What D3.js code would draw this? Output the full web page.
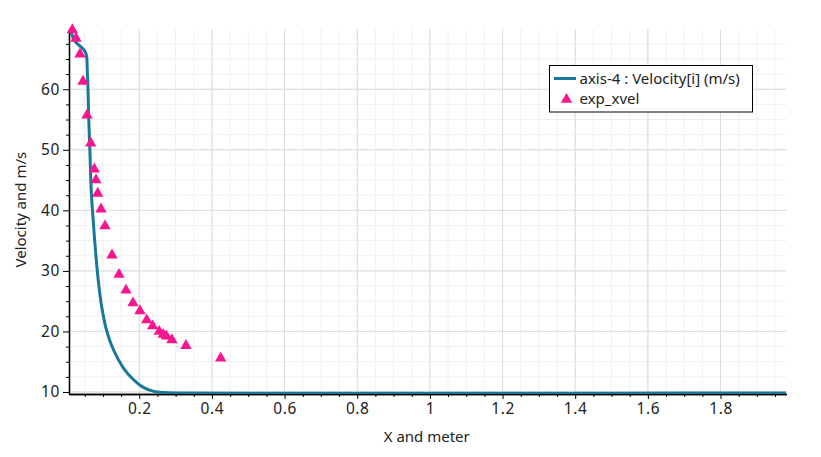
<!DOCTYPE html>
<html>
<head>
<meta charset="utf-8">
<script src="https://cdn.jsdelivr.net/npm/d3@7"></script>
<style>
  html, body { margin: 0; padding: 0; background: #fff; }
  text { font-family: "Noto Sans", "Open Sans", sans-serif; fill: #222; }
</style>
</head>
<body>
<svg id="chart" width="821" height="457"></svg>
<script>
// ---- data ----
const lineX = [0.013, 0.022, 0.052, 0.057, 0.061, 0.064, 0.068, 0.073, 0.080, 0.087, 0.096, 0.110, 0.128, 0.156, 0.183, 0.210, 0.240, 0.270, 0.320, 0.500, 1.000, 1.500, 1.980];
const lineY = [69.4, 68.0, 66.1, 63.0, 55.0, 50.0, 43.0, 38.5, 33.0, 28.5, 24.3, 20.2, 17.1, 14.0, 12.1, 10.8, 10.1, 9.9, 9.82, 9.8, 9.8, 9.8, 9.85];
const expX = [0.0157, 0.0259, 0.0369, 0.0451, 0.0561, 0.0663, 0.0762, 0.0809, 0.0856, 0.0947, 0.1057, 0.1250, 0.1442, 0.1635, 0.1827, 0.2020, 0.2204, 0.2369, 0.2550, 0.2660, 0.2750, 0.2900, 0.3285, 0.4241];
const expY = [69.8, 68.4, 65.8, 61.3, 55.7, 51.1, 46.8, 45.0, 42.8, 40.2, 37.4, 32.6, 29.4, 26.8, 24.7, 23.4, 21.9, 20.9, 20.0, 19.5, 19.2, 18.6, 17.65, 15.6];
const xTicks = [0.2, 0.4, 0.6, 0.8, 1, 1.2, 1.4, 1.6, 1.8];
const yTicks = [10, 20, 30, 40, 50, 60];
const xDomain = [0.0066, 1.9816];
const yDomain = [9.67, 69.9];
const seriesNames = ["axis-4 : Velocity[i] (m/s)", "exp_xvel"];
const xTitle = "X and meter";
const yTitle = "Velocity and m/s";

// ---- layout ----
const L = 69, R = 786.5, T = 29.3, B = 394;
const lineColor = "#17789a";
const markColor = "#f7168e";

const svg = d3.select("#chart");
const x = d3.scaleLinear().domain(xDomain).range([L, R]);
const y = d3.scaleLinear().domain(yDomain).range([B, T]);

const xMinor = d3.range(0.05, 1.981, 0.05).map(v => +v.toFixed(2));
const yMinor = d3.range(10, 69.9, 2.5);

// grid
const g = svg.append("g");
g.selectAll(".vminor").data(xMinor).join("line")
  .attr("x1", d => x(d)).attr("x2", d => x(d)).attr("y1", T).attr("y2", B)
  .attr("stroke", "#f0f0f0").attr("stroke-width", 1);
g.selectAll(".hminor").data(yMinor).join("line")
  .attr("x1", L).attr("x2", R).attr("y1", d => y(d)).attr("y2", d => y(d))
  .attr("stroke", "#f0f0f0").attr("stroke-width", 1);
g.selectAll(".vmajor").data(xTicks).join("line")
  .attr("x1", d => x(d)).attr("x2", d => x(d)).attr("y1", T).attr("y2", B)
  .attr("stroke", "#dcdcdc").attr("stroke-width", 1);
g.selectAll(".hmajor").data(yTicks).join("line")
  .attr("x1", L).attr("x2", R).attr("y1", d => y(d)).attr("y2", d => y(d))
  .attr("stroke", "#dcdcdc").attr("stroke-width", 1);

// axes
const fmt = d3.format("~g");
const xAxis = svg.append("g").attr("transform", `translate(0,${B})`)
  .call(d3.axisBottom(x).tickValues(xTicks).tickFormat(fmt).tickSize(5).tickSizeOuter(0).tickPadding(4));
const xAxisMinor = svg.append("g").attr("transform", `translate(0,${B})`)
  .call(d3.axisBottom(x).tickValues(xMinor.filter(v => !xTicks.some(t => Math.abs(t - v) < 1e-6))).tickFormat("").tickSize(3).tickSizeOuter(0));
const yAxis = svg.append("g").attr("transform", `translate(${L},0)`)
  .call(d3.axisLeft(y).tickValues(yTicks).tickFormat(fmt).tickSize(6).tickSizeOuter(0).tickPadding(3));
const yAxisMinor = svg.append("g").attr("transform", `translate(${L},0)`)
  .call(d3.axisLeft(y).tickValues(yMinor.filter(v => v % 10 !== 0)).tickFormat("").tickSize(3).tickSizeOuter(0));
[xAxis, xAxisMinor, yAxis, yAxisMinor].forEach(a => {
  a.select(".domain").attr("stroke", "#000").attr("stroke-width", 1.3);
  a.selectAll(".tick line").attr("stroke", "#000");
  a.selectAll(".tick text").style("font-family", '"Noto Sans", sans-serif').style("font-size", "15.5px")
    .style("letter-spacing", "0.6px").attr("fill", "#222");
});

// clip
svg.append("clipPath").attr("id", "clip").append("rect")
  .attr("x", L).attr("y", T - 6).attr("width", R - L).attr("height", B - T + 6);

// line
const lineData = lineX.map((v, i) => [v, lineY[i]]);
svg.append("path").datum(lineData)
  .attr("clip-path", "url(#clip)")
  .attr("fill", "none").attr("stroke", lineColor).attr("stroke-width", 3)
  .attr("stroke-linejoin", "round")
  .attr("d", d3.line().x(d => x(d[0])).y(d => y(d[1])).curve(d3.curveCatmullRom.alpha(0.5)));

// markers
const tri = d3.symbol().type(d3.symbolTriangle).size(56);
svg.append("g").selectAll("path").data(expX.map((v, i) => [v, expY[i]])).join("path")
  .attr("transform", d => `translate(${x(d[0])},${y(d[1])})`)
  .attr("d", tri).attr("fill", markColor);

// titles
svg.append("text").attr("x", (L + R) / 2 - 1).attr("y", 442).attr("text-anchor", "middle")
  .style("font-size", "15px").text(xTitle);
svg.append("text").attr("transform", `translate(26,${(T + B) / 2 - 2}) rotate(-90)`).attr("text-anchor", "middle")
  .style("font-size", "15px").text(yTitle);

// legend
const lg = svg.append("g");
lg.append("rect").attr("x", 549.5).attr("y", 65.5).attr("width", 203).attr("height", 46.5)
  .attr("fill", "#fff").attr("stroke", "#000").attr("stroke-width", 1);
lg.append("line").attr("x1", 554).attr("x2", 576).attr("y1", 78.5).attr("y2", 78.5)
  .attr("stroke", lineColor).attr("stroke-width", 3);
lg.append("text").attr("x", 579.5).attr("y", 83.5).style("font-size", "15px").text(seriesNames[0]);
lg.append("path").attr("transform", "translate(566.5,99.5)").attr("d", tri).attr("fill", markColor);
lg.append("text").attr("x", 579.5).attr("y", 104).style("font-size", "15px").text(seriesNames[1]);
</script>
</body>
</html>
